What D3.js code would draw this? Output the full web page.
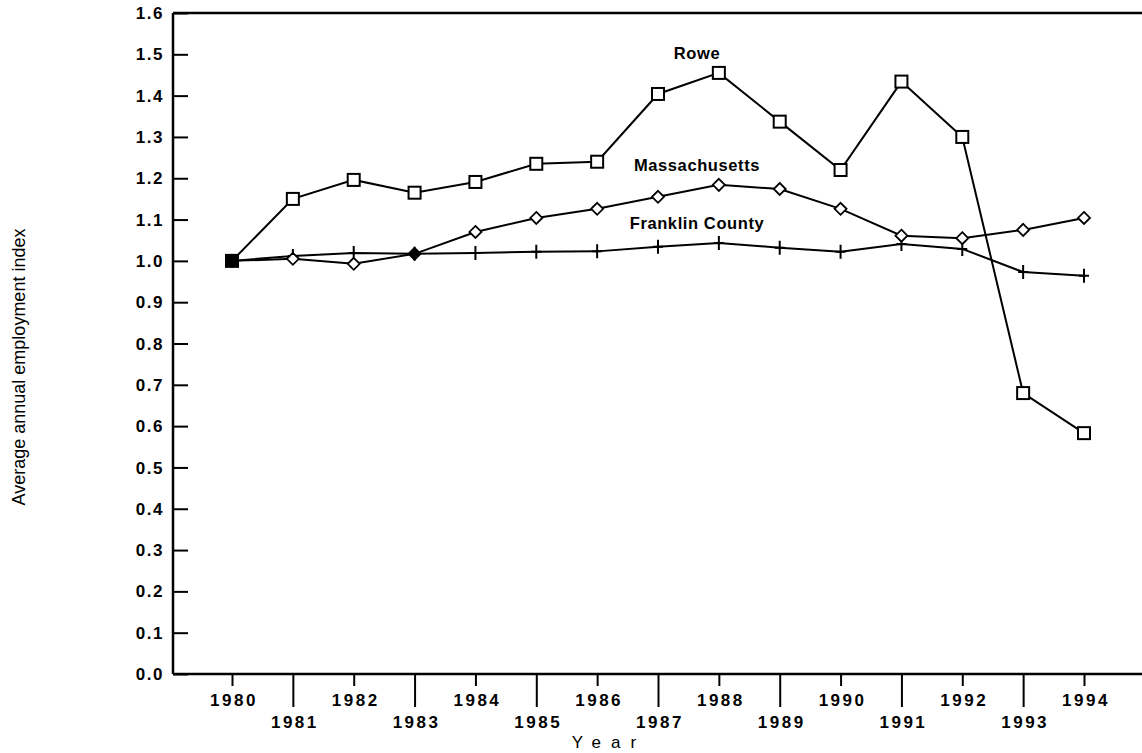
<!DOCTYPE html>
<html>
<head>
<meta charset="utf-8">
<script src="https://cdn.jsdelivr.net/npm/d3@7"></script>
<style>
  body { margin: 0; background: #fff; }
  svg { display: block; }
  text { font-family: "Liberation Sans", Arial, sans-serif; fill: #000; }
</style>
</head>
<body>
<div id="graphicContainer"></div>
<script>
var years = [1980, 1981, 1982, 1983, 1984, 1985, 1986, 1987, 1988, 1989, 1990, 1991, 1992, 1993, 1994];
var rowe = [1.00, 1.150, 1.196, 1.165, 1.191, 1.235, 1.240, 1.404, 1.455, 1.337, 1.220, 1.434, 1.300, 0.680, 0.583];
var massachusetts = [1.00, 1.005, 0.993, 1.017, 1.070, 1.104, 1.126, 1.155, 1.184, 1.174, 1.126, 1.061, 1.055, 1.075, 1.104];
var franklin = [1.00, 1.012, 1.019, 1.017, 1.019, 1.022, 1.023, 1.034, 1.043, 1.032, 1.022, 1.041, 1.029, 0.973, 0.964];
var yTicks = [0, 0.1, 0.2, 0.3, 0.4, 0.5, 0.6, 0.7, 0.8, 0.9, 1.0, 1.1, 1.2, 1.3, 1.4, 1.5, 1.6];
var seriesLabels = ["Rowe", "Massachusetts", "Franklin County"];

var width = 1142, height = 753;
var margin = {top: 13, right: 0, bottom: 79, left: 173};

var svg = d3.select("#graphicContainer").append("svg")
    .attr("width", width)
    .attr("height", height);

var x = d3.scaleLinear().domain([1980, 1994]).range([232, 1084]);
var y = d3.scaleLinear().domain([0, 1.6]).range([height - margin.bottom, margin.top]);

// y axis, ticks point inwards
var yAxis = svg.append("g")
    .attr("transform", "translate(" + margin.left + ",0)")
    .call(d3.axisRight(y).tickValues(yTicks).tickSize(15).tickFormat(""));
yAxis.select(".domain").remove();
yAxis.selectAll("line").attr("stroke", "#000").attr("stroke-width", 2);

svg.append("g").selectAll("text")
    .data(yTicks)
    .enter().append("text")
    .attr("x", 164)
    .attr("y", function(d) { return y(d); })
    .attr("dy", "0.36em")
    .attr("text-anchor", "end")
    .attr("font-size", 17)
    .attr("font-weight", "bold")
    .attr("letter-spacing", 1.5)
    .text(function(d) { return d3.format(".1f")(d); });

// x axis: even years short ticks, odd years long ticks
var xAxis = svg.append("g")
    .attr("transform", "translate(0," + y(0) + ")")
    .call(d3.axisBottom(x).tickValues(years).tickSize(0).tickFormat(""));
xAxis.select(".domain").remove();
xAxis.selectAll(".tick line")
    .attr("y2", function(d) { return d % 2 === 0 ? 12 : 33; })
    .attr("stroke", "#000")
    .attr("stroke-width", 2);

svg.append("g").selectAll("text")
    .data(years)
    .enter().append("text")
    .attr("x", function(d) { return x(d) + 2; })
    .attr("y", function(d) { return y(0) + (d % 2 === 0 ? 26 : 48); })
    .attr("dy", "0.36em")
    .attr("text-anchor", "middle")
    .attr("font-size", 17)
    .attr("font-weight", "bold")
    .attr("letter-spacing", 2.5)
    .text(function(d) { return d; });

// frame
svg.append("line")
    .attr("x1", margin.left).attr("x2", margin.left)
    .attr("y1", y(1.6)).attr("y2", y(0))
    .attr("stroke", "#000").attr("stroke-width", 2.5);
svg.append("line")
    .attr("x1", margin.left).attr("x2", width)
    .attr("y1", y(0)).attr("y2", y(0))
    .attr("stroke", "#000").attr("stroke-width", 2.5);
svg.append("line")
    .attr("x1", margin.left).attr("x2", width)
    .attr("y1", y(1.6)).attr("y2", y(1.6))
    .attr("stroke", "#000").attr("stroke-width", 2.5);

// axis titles
svg.append("text")
    .attr("x", 609)
    .attr("y", 742)
    .attr("dy", "0.36em")
    .attr("text-anchor", "middle")
    .attr("font-size", 17)
    .attr("letter-spacing", 10)
    .text("Year");

svg.append("text")
    .attr("transform", "translate(19,367) rotate(-90)")
    .attr("dy", "0.36em")
    .attr("text-anchor", "middle")
    .attr("font-size", 18)
    .text("Average annual employment index");

var line = d3.line()
    .x(function(d, i) { return x(years[i]); })
    .y(function(d) { return y(d); });

var g = svg.append("g");

[franklin, massachusetts, rowe].forEach(function(s) {
    g.append("path")
        .datum(s)
        .attr("d", line)
        .attr("fill", "none")
        .attr("stroke", "#000")
        .attr("stroke-width", 2);
});

// franklin county: plus marks
g.append("g").selectAll("path")
    .data(franklin)
    .enter().append("path")
    .attr("d", function(d, i) {
        var cx = x(years[i]), cy = y(d);
        return "M" + (cx - 5) + "," + cy + "H" + (cx + 5) + "M" + cx + "," + (cy - 7) + "V" + (cy + 7);
    })
    .attr("stroke", "#000")
    .attr("stroke-width", 2);

// massachusetts: diamonds (1983 filled)
g.append("g").selectAll("path")
    .data(massachusetts)
    .enter().append("path")
    .attr("d", function(d, i) {
        var cx = x(years[i]), cy = y(d), r = 6;
        return "M" + cx + "," + (cy - r) + "L" + (cx + r) + "," + cy + "L" + cx + "," + (cy + r) + "L" + (cx - r) + "," + cy + "Z";
    })
    .attr("fill", function(d, i) { return years[i] === 1983 ? "#000" : "#fff"; })
    .attr("stroke", "#000")
    .attr("stroke-width", 1.8);

// rowe: squares (1980 filled)
g.append("g").selectAll("rect")
    .data(rowe)
    .enter().append("rect")
    .attr("x", function(d, i) { return x(years[i]) - 6; })
    .attr("y", function(d) { return y(d) - 6; })
    .attr("width", 12)
    .attr("height", 12)
    .attr("fill", function(d, i) { return years[i] === 1980 ? "#000" : "#fff"; })
    .attr("stroke", "#000")
    .attr("stroke-width", 2);

// series labels
var labelPos = [[697, 53], [697, 165], [697, 223]];
svg.append("g").selectAll("text")
    .data(seriesLabels)
    .enter().append("text")
    .attr("x", function(d, i) { return labelPos[i][0]; })
    .attr("y", function(d, i) { return labelPos[i][1]; })
    .attr("dy", "0.36em")
    .attr("text-anchor", "middle")
    .attr("font-size", 16.5)
    .attr("font-weight", "bold")
    .attr("letter-spacing", 0.6)
    .text(function(d) { return d; });
</script>
</body>
</html>
